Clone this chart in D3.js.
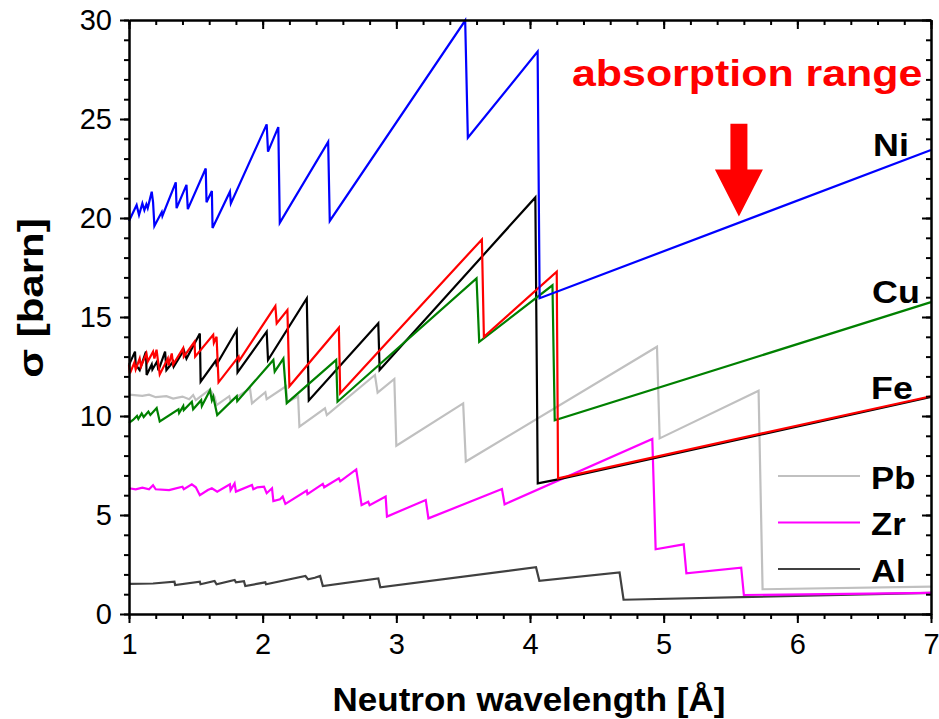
<!DOCTYPE html>
<html>
<head>
<meta charset="utf-8">
<script src="https://cdn.jsdelivr.net/npm/d3@7"></script>
<style>
  html, body { margin: 0; padding: 0; background: #fff; }
  svg { display: block; font-family: "Liberation Sans", Arial, sans-serif; }
</style>
</head>
<body>
<svg id="chart" width="939" height="719"></svg>
<script>
// ---------------- DATA ----------------
const xTicks = [1, 2, 3, 4, 5, 6, 7];
const yTicks = [0, 5, 10, 15, 20, 25, 30];
const xLabel = "Neutron wavelength [Å]";
const yLabel = "σ [barn]";
const annotation = "absorption range";

// [wavelength (Å), cross-section (barn)]
const alData = [[1.0,1.52],[1.18,1.54],[1.34,1.63],[1.345,1.46],[1.53,1.63],[1.535,1.5],[1.64,1.67],[1.655,1.5],
  [1.79,1.72],[1.8,1.6],[1.86,1.66],[1.87,1.41],[2.02,1.6],[2.025,1.5],[2.32,1.92],[2.34,1.75],[2.39,1.83],[2.43,1.92],
  [2.45,1.41],[2.865,1.8],[2.88,1.35],[4.045,2.36],[4.07,1.68],[4.67,2.1],[4.70,0.72],[7.0,1.07]];

const zrData = [[1.0,6.35],[1.05,6.3],[1.1,6.38],[1.15,6.3],[1.18,6.5],[1.2,6.3],[1.3,6.26],[1.4,6.43],[1.41,6.3],
  [1.47,6.55],[1.5,6.4],[1.53,6.0],[1.59,6.26],[1.62,6.35],[1.66,6.18],[1.755,6.55],[1.76,6.26],[1.79,6.6],[1.8,6.18],
  [1.92,6.52],[1.93,6.3],[1.96,6.4],[2.01,6.43],[2.03,6.1],[2.07,6.35],[2.08,5.7],[2.13,5.79],[2.15,5.93],[2.17,5.56],
  [2.33,6.23],[2.335,6.05],[2.45,6.57],[2.46,6.4],[2.57,6.85],[2.58,6.7],[2.70,7.3],[2.716,6.6],[2.74,5.5],[2.79,5.67],
  [2.80,5.5],[2.92,5.93],[2.93,4.92],[3.22,5.76],[3.24,4.83],[3.79,6.31],[3.81,5.54],[4.915,8.84],[4.94,3.27],
  [5.15,3.52],[5.17,2.05],[5.58,2.34],[5.6,0.96],[7.0,1.07]];

const pbData = [[1.0,11.08],[1.1,11.02],[1.15,11.08],[1.2,10.95],[1.28,11.0],[1.33,10.88],[1.4,10.98],[1.45,10.85],
  [1.48,11.06],[1.5,10.8],[1.606,11.35],[1.64,10.98],[1.655,10.55],[1.75,11.0],[1.76,10.75],[1.905,11.4],[1.92,10.64],
  [2.02,11.2],[2.03,10.85],[2.175,11.5],[2.185,10.7],[2.265,11.0],[2.275,9.46],[2.466,10.39],[2.48,10.05],[2.84,12.07],
  [2.86,11.18],[2.985,11.87],[3.0,8.5],[3.5,10.64],[3.52,7.7],[4.95,13.5],[4.97,8.87],[5.71,11.28],[5.74,1.25],[7.0,1.38]];

const alphaFeData = [[1.0,12.58],[1.045,13.25],[1.05,12.6],[1.08,12.32],[1.127,13.25],[1.132,12.07],[1.17,12.6],
  [1.175,12.35],[1.21,12.75],[1.22,12.3],[1.27,13.25],[1.28,12.32],[1.33,12.74],[1.335,12.5],[1.41,13.33],[1.43,12.9],
  [1.53,14.17],[1.536,11.73],[1.65,12.8],[1.655,12.6],[1.806,14.34],[1.812,12.2],[2.03,14.26],[2.04,12.83],[2.33,15.94],
  [2.345,10.78],[2.865,14.68],[2.875,12.32],[4.04,21.04],[4.058,6.6],[4.21,6.8],[7.0,10.96]];

const cuData = [[1.0,9.65],[1.03,9.8],[1.06,10.0],[1.07,9.85],[1.095,10.13],[1.11,9.95],[1.145,10.22],[1.16,10.05],
  [1.207,10.4],[1.23,9.72],[1.37,10.34],[1.375,10.15],[1.406,10.5],[1.41,10.3],[1.47,10.72],[1.48,10.34],[1.54,10.8],
  [1.545,10.5],[1.606,11.3],[1.62,10.8],[1.63,10.98],[1.66,10.05],[1.806,11.0],[1.81,10.75],[2.08,12.83],[2.09,12.24],
  [2.155,12.9],[2.18,10.65],[2.55,12.83],[2.56,10.72],[3.6,16.95],[3.62,13.75],[4.168,16.6],[4.185,9.78],[7.0,15.75]];

const feData = [[1.0,12.58],[1.007,12.15],[1.04,12.7],[1.05,12.35],[1.08,12.9],[1.09,12.5],[1.13,13.16],[1.14,12.75],
  [1.18,13.25],[1.19,12.9],[1.206,13.35],[1.23,12.1],[1.29,12.9],[1.295,12.55],[1.32,13.16],[1.33,12.6],[1.405,13.42],
  [1.41,13.0],[1.49,13.75],[1.495,13.0],[1.63,14.1],[1.635,13.7],[1.655,14.0],[1.67,11.7],[1.82,13.0],[1.825,12.8],
  [2.095,15.55],[2.105,14.68],[2.185,15.35],[2.2,11.5],[2.57,14.46],[2.58,11.15],[3.64,18.92],[3.655,14.0],[4.2,17.29],
  [4.21,6.85],[7.0,11.0]];

const niData = [[1.0,19.85],[1.057,20.66],[1.075,20.15],[1.10,20.74],[1.115,20.4],[1.13,20.69],[1.14,20.5],[1.17,21.33],
  [1.18,20.8],[1.19,19.6],[1.245,20.3],[1.25,20.1],[1.35,21.8],[1.356,20.5],[1.43,21.67],[1.44,20.45],[1.574,22.5],
  [1.58,20.8],[1.62,21.36],[1.625,19.5],[1.755,21.33],[1.762,20.74],[2.03,24.73],[2.04,23.35],[2.117,24.59],
  [2.128,19.76],[2.49,23.84],[2.502,19.85],[3.515,29.97],[3.535,24.05],[4.057,28.4],[4.072,15.95],[7.0,23.43]];

const seriesNames  = ["Al", "Zr", "Pb", "alpha-Fe", "Cu", "Fe", "Ni"];
const seriesData   = [alData, zrData, pbData, alphaFeData, cuData, feData, niData];
const seriesColors = ["#404040", "#ff00ff", "#c0c0c0", "#000000", "#008000", "#ff0000", "#0000ff"];

const legendNames  = ["Pb", "Zr", "Al"];
const legendColors = ["#c0c0c0", "#ff00ff", "#404040"];

const endLabels = ["Ni", "Cu", "Fe"];

// ---------------- CHART ----------------
const svg = d3.select("#chart");
const x = d3.scaleLinear().domain([1, 7]).range([129, 931]);
const y = d3.scaleLinear().domain([0, 30]).range([614, 20]);

const minorX = d3.range(1, 7.001, 0.2);
const minorY = d3.range(0, 30.001, 1);

const fontNum = 29;

// stretched text helper: font size sets height, sx widens glyphs
function sText(g, t, px, py, size, sx, opts = {}) {
  const el = g.append("text")
    .attr("transform", `translate(${px},${py}) ${opts.rotate ? "rotate(" + opts.rotate + ")" : ""} scale(${sx},1)`)
    .attr("font-size", size)
    .attr("font-weight", opts.weight || "bold")
    .attr("fill", opts.fill || "#000")
    .attr("text-anchor", opts.anchor || "start")
    .text(t);
  return el;
}

// data lines
const line = d3.line().x(d => x(d[0])).y(d => y(d[1]));
seriesData.forEach((data, i) => {
  svg.append("path")
    .datum(data)
    .attr("fill", "none")
    .attr("stroke", seriesColors[i])
    .attr("stroke-width", 2.2)
    .attr("stroke-linejoin", "miter")
    .attr("d", line);
});

// axes
function styleAxis(g) {
  g.selectAll(".domain").attr("stroke", "#000").attr("stroke-width", 2);
  g.selectAll(".tick line").attr("stroke", "#000").attr("stroke-width", 2);
  g.selectAll(".tick text").attr("fill", "#000").attr("font-size", fontNum)
    .attr("font-family", "'Liberation Sans', Arial, sans-serif");
}

// bottom: outward
svg.append("g").attr("transform", `translate(0,${y(0)})`)
  .call(d3.axisBottom(x).tickValues(minorX).tickSize(5).tickFormat("").tickSizeOuter(0))
  .call(styleAxis);
svg.append("g").attr("transform", `translate(0,${y(0)})`)
  .call(d3.axisBottom(x).tickValues(xTicks).tickSize(9).tickPadding(10).tickFormat(d3.format("d")).tickSizeOuter(0))
  .call(styleAxis);

// top: inward ticks
svg.append("g").attr("transform", `translate(0,${y(30)})`)
  .call(d3.axisBottom(x).tickValues(minorX).tickSize(5).tickFormat("").tickSizeOuter(0))
  .call(styleAxis);
svg.append("g").attr("transform", `translate(0,${y(30)})`)
  .call(d3.axisBottom(x).tickValues(xTicks).tickSize(9).tickFormat("").tickSizeOuter(0))
  .call(styleAxis);

// left: outward
svg.append("g").attr("transform", `translate(${x(1)},0)`)
  .call(d3.axisLeft(y).tickValues(minorY).tickSize(5).tickFormat("").tickSizeOuter(0))
  .call(styleAxis);
svg.append("g").attr("transform", `translate(${x(1)},0)`)
  .call(d3.axisLeft(y).tickValues(yTicks).tickSize(9).tickPadding(8).tickFormat(d3.format("d")).tickSizeOuter(0))
  .call(styleAxis);

// right: inward
svg.append("g").attr("transform", `translate(${x(7)},0)`)
  .call(d3.axisLeft(y).tickValues(minorY).tickSize(5).tickFormat("").tickSizeOuter(0))
  .call(styleAxis);
svg.append("g").attr("transform", `translate(${x(7)},0)`)
  .call(d3.axisLeft(y).tickValues(yTicks).tickSize(9).tickFormat("").tickSizeOuter(0))
  .call(styleAxis);

// axis titles
sText(svg, xLabel, (x(1) + x(7)) / 2 - 1, 711, 34, 1.03, { anchor: "middle" });
sText(svg, yLabel, 43, 298, 35, 1.2, { anchor: "middle", rotate: -90 });

// end labels (Ni, Cu, Fe)
const endLabelPos = [[873, 156], [872, 303], [871, 399]];
endLabels.forEach((t, i) => {
  sText(svg, t, endLabelPos[i][0], endLabelPos[i][1], 32, 1.12);
});

// legend
legendNames.forEach((t, i) => {
  const ly = 476 + i * 46.5;
  svg.append("line")
    .attr("x1", 778).attr("x2", 860).attr("y1", ly).attr("y2", ly)
    .attr("stroke", legendColors[i]).attr("stroke-width", 2.2);
  sText(svg, t, 871, ly + 12.5, 31, 1.12);
});

// annotation
sText(svg, annotation, 572, 86, 37, 1.16, { fill: "#ff0000" });

// arrow (in data coords)
const ac = x(5.563);
const shaftTop = y(24.76), headTop = y(22.45), tip = y(20.08);
svg.append("path")
  .attr("fill", "#ff0000")
  .attr("d", `M${ac - 8.5},${shaftTop} L${ac + 8.5},${shaftTop} L${ac + 8.5},${headTop} L${ac + 24},${headTop}
              L${ac},${tip} L${ac - 24},${headTop} L${ac - 8.5},${headTop} Z`);
</script>
</body>
</html>
